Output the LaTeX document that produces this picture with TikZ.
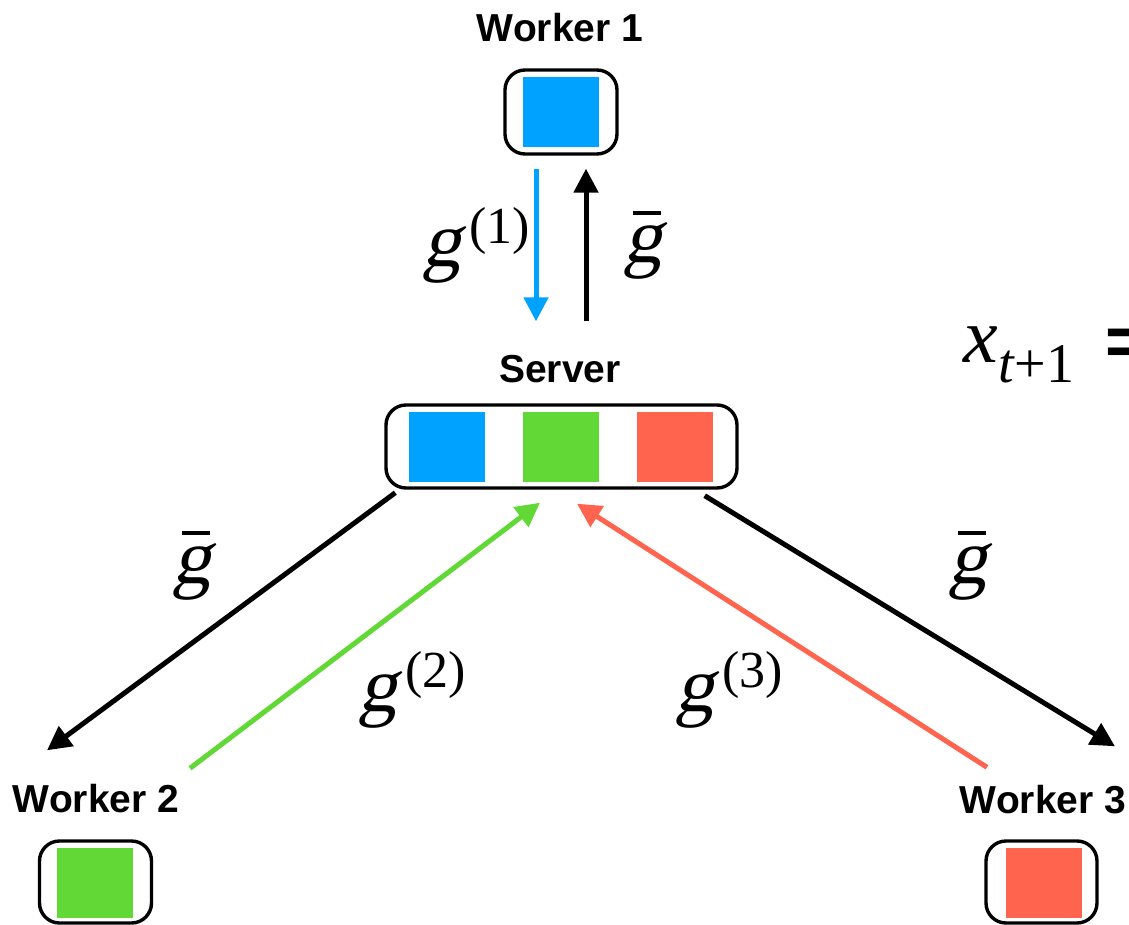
\documentclass[tikz,border=0pt]{standalone}
\usepackage{fontspec}
\setmainfont{Liberation Serif}
\setsansfont{Liberation Sans}
\newfontfamily\slfont[FakeSlant=0.22]{Liberation Serif}
\usetikzlibrary{arrows.meta,calc}
\definecolor{wblue}{RGB}{0,162,255}
\definecolor{wgreen}{RGB}{97,216,54}
\definecolor{wred}{RGB}{255,100,78}
\newcommand{\gsup}[1]{{\slfont g}\kern4pt\raisebox{12pt}{\fontsize{26}{30}\selectfont(#1)}}
\newcommand{\gbar}{\makebox[0pt][l]{\hspace{5pt}\rule[24pt]{14pt}{2pt}}{\slfont g}}

\begin{document}
\begin{tikzpicture}[x=0.5pt,y=-0.5pt,>={Triangle[length=12pt,width=12pt]},
  box/.style={draw,line width=1.7pt,rounded corners=10pt,minimum width=56pt,minimum height=41pt,inner sep=0pt},
  sq/.style={minimum width=38pt,minimum height=35pt,inner sep=0pt},
  lab/.style={font=\sffamily\bfseries\fontsize{19.5}{23}\selectfont,inner sep=0pt,anchor=base},
  mth/.style={font=\fontsize{39}{47}\selectfont,inner sep=0pt,anchor=base west},
  ln/.style={->,line width=2.5pt}]

  \useasboundingbox (0,0) rectangle (1129,925);
  \clip (0,0) rectangle (1129,925);

  \node[lab] (l1) at (560,42) {Worker 1};
  \node[box,minimum height=42pt] (w1) at (561,112) {};
  \node[sq,fill=wblue] (q1) at (561,112) {};

  \node[lab] (ls) at (560,382) {Server};
  \node[box,minimum width=175.5pt,minimum height=41.5pt] (srv) at (561.5,446.5) {};
  \node[sq,fill=wblue] (s1) at (447,447) {};
  \node[sq,fill=wgreen] (s2) at (561,447) {};
  \node[sq,fill=wred] (s3) at (675,447) {};

  \node[lab] (l2) at (96,812) {Worker 2};
  \node[box] (w2) at (95.5,882) {};
  \node[sq,fill=wgreen] (q2) at (95,882.5) {};

  \node[lab] (l3) at (1043,813) {Worker 3};
  \node[box,minimum width=55.5pt] (w3) at (1041.5,882) {};
  \node[sq,fill=wred] (q3) at (1043.5,882.5) {};

  \draw[ln,wblue] ($(w1.south)+(-25,13)$) -- ($(srv.north)+(-25.5,-82)$);
  \draw[ln] ($(srv.north)+(24.5,-82)$) -- ($(w1.south)+(25,13)$);
  \draw[ln] ($(srv.south west)+(11,3)$) -- ($(w2.north)+(-48.5,-89)$);
  \draw[ln,wgreen] ($(w2.north)+(94.5,-71)$) -- ($(srv.south)+(-21.5,13)$);
  \draw[ln,wred] ($(w3.north)+(-54.5,-72)$) -- ($(srv.south)+(15.5,14)$);
  \draw[ln] ($(srv.south east)+(-34,6)$) -- ($(w3.north)+(73.5,-93)$);

  \node[mth] (a1) at (422,267) {\gsup{1}};
  \node[mth] (b1) at (623,263) {\gbar};
  \node[mth] (b2) at (172,583) {\gbar};
  \node[mth] (b3) at (948,583) {\gbar};
  \node[mth] (a2) at (358,711) {\gsup{2}};
  \node[mth] (a3) at (675,711) {\gsup{3}};
  \node[mth] (xt) at (963,362) {\textit{x}\raisebox{-10pt}{\fontsize{28}{34}\selectfont\textit{t}+1}};
  \node[font=\sffamily\bfseries\fontsize{35}{40}\selectfont,inner sep=0pt,anchor=base west] (eq) at (1105,365) {=};

\end{tikzpicture}
\end{document}
